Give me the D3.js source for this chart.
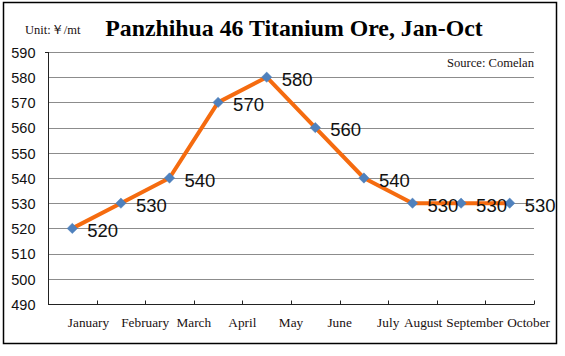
<!DOCTYPE html>
<html><head><meta charset="utf-8">
<script src="https://cdn.jsdelivr.net/npm/d3@7"></script>
<style>body{margin:0;background:#fff;}svg{display:block;}</style>
</head><body>
<script>
const months = ["January","February","March","April","May","June","July","August","September","October"];
const prices = [520,530,540,570,580,560,540,530,530,530];
const yTicks = [490,500,510,520,530,540,550,560,570,580,590];
const titleText = "Panzhihua 46 Titanium Ore, Jan-Oct";
const unitText = "Unit:\uFFE5/mt";
const sourceText = "Source: Comelan";

(function(){
const W = 565, H = 356;
const svg = d3.select("body").append("svg").attr("width", W).attr("height", H);
svg.append("rect").attr("x",3.5).attr("y",2.5).attr("width",553).attr("height",341)
  .attr("fill","#fff").attr("stroke","#000").attr("stroke-width",1.5);

const pL = 48, pR = 534, pT = 52, pB = 304;
const x = d3.scaleBand().domain(months).range([pL, pR]);
const y = d3.scaleLinear().domain([490, 590]).range([pB, pT]);

// gridlines
svg.append("g").selectAll("line").data(yTicks.slice(1)).join("line")
  .attr("x1", pL).attr("x2", pR).attr("y1", d => Math.round(y(d))+0.5).attr("y2", d => Math.round(y(d))+0.5)
  .attr("stroke", "#8c8c8c").attr("stroke-width", 1);

// y axis
const yAxis = svg.append("g").attr("transform", `translate(${pL+0.5},0)`)
  .call(d3.axisLeft(y).tickValues(yTicks).tickSize(0).tickPadding(13).tickFormat(d3.format("d")));
yAxis.select(".domain").attr("stroke", "#222").attr("d", `M0,${pT}V${pB+0.5}`);
yAxis.selectAll("text").attr("font-family", "'Liberation Sans', Arial, sans-serif")
  .attr("font-size", 14.5).attr("fill", "#111").attr("dy", "0.36em");
svg.append("line").attr("x1", pL-3).attr("x2", pL).attr("y1", pT+0.5).attr("y2", pT+0.5).attr("stroke","#222");

// x axis
const xg = svg.append("g");
xg.append("line").attr("x1", pL).attr("x2", pR+0.5).attr("y1", pB+0.5).attr("y2", pB+0.5).attr("stroke","#222");
xg.selectAll("line.tk").data(months).join("line").attr("class","tk")
  .attr("x1", d => Math.round(x(d)+x.bandwidth())+0.5).attr("x2", d => Math.round(x(d)+x.bandwidth())+0.5)
  .attr("y1", pB).attr("y2", pB-3.5).attr("stroke","#222");
const xl = xg.selectAll("text").data(months).join("text")
  .attr("y", 327).attr("text-anchor", "middle")
  .attr("font-family", "'Liberation Serif', 'Times New Roman', serif")
  .attr("font-size", 13.3).attr("fill", "#1a1010").text(d => d);
const nodes = xl.nodes();
const cx = months.map(m => x(m) + x.bandwidth());
const wd = nodes.map(n => n.getComputedTextLength());
let limit = 550;
for (let i = months.length - 1; i >= 0; i--) {
  let c = cx[i];
  if (c + wd[i]/2 > limit) c = limit - wd[i]/2;
  cx[i] = c;
  limit = c - wd[i]/2 - 4;
}
cx[0] -= 8;
xl.attr("x", (d, i) => cx[i]);

// line
const line = d3.line().x((d, i) => x(months[i]) + x.bandwidth()/2).y(d => y(d));
svg.append("path").datum(prices).attr("d", line).attr("fill","none")
  .attr("stroke", "#F56B0F").attr("stroke-width", 4).attr("stroke-linejoin","round");

// markers
svg.append("g").selectAll("path").data(prices).join("path")
  .attr("transform", (d, i) => `translate(${x(months[i]) + x.bandwidth()/2},${y(d)})`)
  .attr("d", d3.symbol().type(d3.symbolDiamond2).size(68))
  .attr("fill", "#4F81BD").attr("stroke", "#4A7EBB").attr("stroke-width", 0.5);

// data labels
svg.append("g").selectAll("text").data(prices).join("text")
  .attr("x", (d, i) => x(months[i]) + x.bandwidth()/2 + 15)
  .attr("y", d => y(d) + 2).attr("dy", "0.36em")
  .attr("font-family", "'Liberation Sans', Arial, sans-serif")
  .attr("font-size", 18.5).attr("fill", "#111").text(d => d);

// title and notes
svg.append("text").attr("x", 294).attr("y", 36).attr("text-anchor","middle")
  .attr("font-family", "'Liberation Serif', 'Times New Roman', serif").attr("font-weight","bold")
  .attr("font-size", 23.8).attr("fill","#000").text(titleText);
svg.append("text").attr("x", 25).attr("y", 34)
  .attr("font-family", "'Liberation Serif', 'Times New Roman', serif")
  .attr("font-size", 12.5).attr("fill","#1a1010").text(unitText);
svg.append("text").attr("x", 534).attr("y", 67).attr("text-anchor","end")
  .attr("font-family", "'Liberation Serif', 'Times New Roman', serif")
  .attr("font-size", 12.6).attr("fill","#1a1010").text(sourceText);
})();
</script>
</body></html>
